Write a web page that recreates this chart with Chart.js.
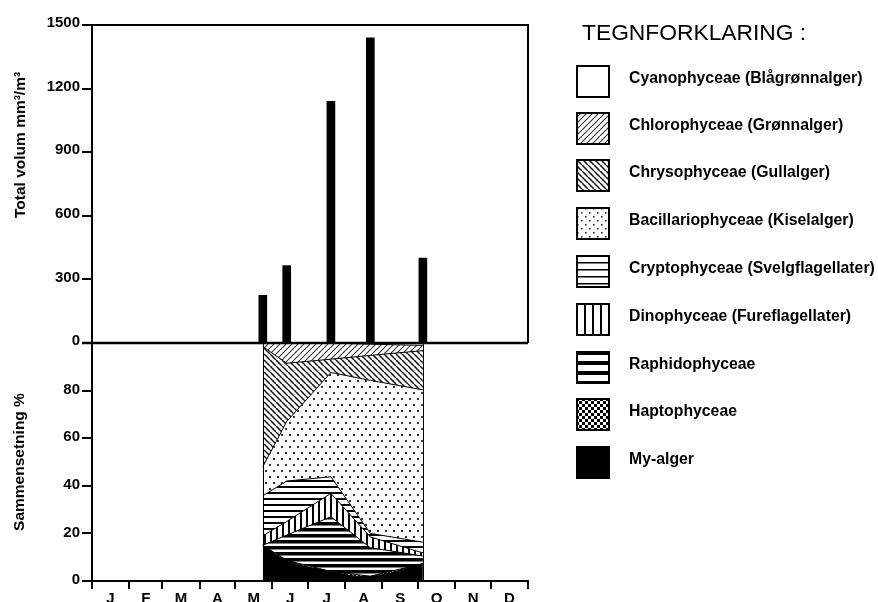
<!DOCTYPE html>
<html>
<head>
<meta charset="utf-8">
<script src="https://cdn.jsdelivr.net/npm/chart.js@4/dist/chart.umd.min.js"></script>
<style>
  html, body { margin: 0; padding: 0; background: #fff; overflow: hidden; }
  #wrap { position: relative; width: 878px; height: 602px; overflow: hidden; font-family: 'Liberation Sans', Arial, sans-serif; }
  #chart { position: absolute; left: 0; top: 0; }
  .ytitle { position: absolute; font-weight: bold; font-size: 15.5px; white-space: nowrap; transform: translate(-50%, -50%) rotate(-90deg); }
  .lgTitle { position: absolute; left: 582px; top: 19px; font-size: 22.8px; line-height: 27px; }
  .sw { position: absolute; left: 576px; }
  .lgText { position: absolute; left: 629px; font-weight: bold; font-size: 15.8px; line-height: 33px; white-space: nowrap; }
</style>
</head>
<body>
<div id="wrap">
  <canvas id="chart" width="878" height="609"></canvas>
  <div class="ytitle" style="left:19.5px; top:145px;">Total volum mm³/m³</div>
  <div class="lgTitle">TEGNFORKLARING :</div>
  <div id="legend"></div>
</div>
<script>
// sampling dates (day of year) and total volume (mm3/m3)
const sampleDays = [143, 163, 200, 233, 277];
const totalVolume = [225, 365, 1140, 1440, 400];

// composition in % per sampling date
const myAlger = [15, 8.7, 4, 2, 7.3];
const hapto = [0, 0, 0, 0, 0];
const raphido = [0, 10.6, 23, 12, 3.2];
const dino = [4, 5.7, 9.8, 4.5, 1.3];
const crypto = [16.8, 17, 7, 1.5, 4.5];
const bacill = [12.2, 25, 43.8, 64.3, 64];
const chryso = [50.5, 24.5, 5.6, 10.5, 16.5];
const chloro = [1.5, 8.5, 6.8, 4.7, 2.2];
const cyano = [0, 0, 0, 0.5, 1];

const monthStarts = [0, 31, 59, 90, 120, 151, 181, 212, 243, 273, 304, 334, 365];
const monthLabels = ['J', 'F', 'M', 'A', 'M', 'J', 'J', 'A', 'S', 'O', 'N', 'D'];
const volTicks = [0, 300, 600, 900, 1200, 1500];
const pctTicks = [0, 20, 40, 60, 80, 100];

const legendNames = [
  'Cyanophyceae (Blågrønnalger)',
  'Chlorophyceae (Grønnalger)',
  'Chrysophyceae (Gullalger)',
  'Bacillariophyceae (Kiselalger)',
  'Cryptophyceae (Svelgflagellater)',
  'Dinophyceae (Fureflagellater)',
  'Raphidophyceae',
  'Haptophyceae',
  'My-alger'
];

// pattern fills, big = legend swatch version
function makePattern(kind, big) {
  const c = document.createElement('canvas');
  const g = c.getContext('2d');
  let w = 6, h = 6;
  if (kind === 'fwd' || kind === 'back') { w = h = 6; }
  if (kind === 'dots') { w = 8; h = big ? 8 : 12; }
  if (kind === 'hthin') { w = 4; h = big ? 7 : 6; }
  if (kind === 'vert') { w = big ? 8 : 6; h = 4; }
  if (kind === 'hthick') { w = 4; h = big ? 10 : 6; }
  if (kind === 'check') { w = h = big ? 6 : 4; }
  c.width = w; c.height = h;
  g.fillStyle = '#fff';
  g.fillRect(0, 0, w, h);
  g.fillStyle = '#000';
  g.strokeStyle = '#000';
  if (kind === 'fwd' || kind === 'back') {
    g.strokeStyle = kind === 'fwd' ? '#333' : '#111';
    g.lineWidth = kind === 'fwd' ? 1.1 : 1.5;
    g.beginPath();
    for (let k = -1; k <= 1; k++) {
      if (kind === 'fwd') { g.moveTo(k * w, h); g.lineTo(k * w + w, 0); }
      else { g.moveTo(k * w, 0); g.lineTo(k * w + w, h); }
    }
    g.stroke();
  } else if (kind === 'dots') {
    g.fillStyle = '#333';
    if (big) { g.fillRect(1, 1, 1.6, 1.6); g.fillRect(5, 5, 1.6, 1.6); }
    else { g.fillRect(1, 2, 2, 2); g.fillRect(5, 8, 2, 2); }
  } else if (kind === 'hthin') {
    g.fillRect(0, 0, w, big ? 1.5 : 2);
  } else if (kind === 'vert') {
    g.fillRect(0, 0, 2, h);
  } else if (kind === 'hthick') {
    g.fillRect(0, 0, w, big ? 4 : 3.5);
  } else if (kind === 'check') {
    const q = w / 2;
    g.fillRect(0, 0, q, q);
    g.fillRect(q, q, q, q);
  } else if (kind === 'solid') {
    g.fillRect(0, 0, w, h);
  }
  return g.createPattern(c, 'repeat');
}

// bottom to top stacking order
const layers = [
  { data: myAlger, kind: 'solid', tension: 0.4 },
  { data: hapto, kind: 'check' },
  { data: raphido, kind: 'hthick' },
  { data: dino, kind: 'vert' },
  { data: crypto, kind: 'hthin' },
  { data: bacill, kind: 'dots' },
  { data: chryso, kind: 'back' },
  { data: chloro, kind: 'fwd' },
  { data: cyano, kind: 'white' }
];

const datasets = layers.map((l, i) => ({
  type: 'line',
  label: legendNames[legendNames.length - 1 - i],
  data: sampleDays.map((d, j) => ({ x: d, y: l.data[j] })),
  xAxisID: 'x',
  yAxisID: 'yBot',
  backgroundColor: l.kind === 'white' ? '#fff' : makePattern(l.kind, false),
  borderColor: '#000',
  borderWidth: 1,
  pointRadius: 0,
  tension: l.tension || 0,
  fill: i === 0 ? 'origin' : '-1'
}));

datasets.push({
  type: 'bar',
  label: 'Total volum',
  data: sampleDays.map((d, j) => ({ x: d, y: totalVolume[j] })),
  xAxisID: 'x',
  yAxisID: 'yTop',
  backgroundColor: '#000',
  barThickness: 8
});

const tickFont = { family: "'Liberation Sans', Arial, sans-serif", size: 15, weight: 'bold' };

// month boundaries carry tick marks, month middles carry the letters
const monthMids = monthLabels.map((m, i) => (monthStarts[i] + monthStarts[i + 1]) / 2);
const xTickValues = monthStarts.concat(monthMids).sort((a, b) => a - b);
const isBoundary = v => monthStarts.indexOf(v) >= 0;

// box round the volume panel and edges of the composition area
const panelFrame = {
  id: 'panelFrame',
  afterDraw(chart) {
    const { ctx, chartArea } = chart;
    const yTop = chart.scales.yTop, yBot = chart.scales.yBot, x = chart.scales.x;
    ctx.save();
    ctx.strokeStyle = '#000';
    ctx.lineWidth = 1;
    [sampleDays[0], sampleDays[sampleDays.length - 1]].forEach(d => {
      const px = Math.round(x.getPixelForValue(d)) + 0.5;
      ctx.beginPath();
      ctx.moveTo(px, yBot.top);
      ctx.lineTo(px, yBot.bottom);
      ctx.stroke();
    });
    ctx.lineWidth = 2;
    ctx.beginPath();
    ctx.moveTo(chartArea.left, yTop.top);
    ctx.lineTo(chartArea.right, yTop.top);
    ctx.lineTo(chartArea.right, yTop.bottom);
    ctx.stroke();
    ctx.lineWidth = 2.5;
    ctx.beginPath();
    ctx.moveTo(chartArea.left - 10, yTop.bottom);
    ctx.lineTo(chartArea.right, yTop.bottom);
    ctx.stroke();
    ctx.restore();
  }
};

new Chart(document.getElementById('chart'), {
  type: 'line',
  data: { datasets },
  options: {
    responsive: false,
    animation: false,
    events: [],
    layout: { padding: { left: 0, top: 25, right: 350, bottom: 0 } },
    plugins: { legend: { display: false }, tooltip: { enabled: false } },
    scales: {
      x: {
        type: 'linear', min: 0, max: 365, offset: false,
        afterBuildTicks: s => { s.ticks = xTickValues.map(v => ({ value: v })); },
        afterFit: s => { s.height = 28; },
        ticks: { padding: 1, color: '#000', font: tickFont, maxRotation: 0, autoSkip: false,
          callback: v => (isBoundary(v) ? '' : monthLabels[monthMids.indexOf(v)]) },
        grid: { drawOnChartArea: false, tickLength: 8, lineWidth: 2, offset: false,
          color: c => (c.tick && isBoundary(c.tick.value) ? '#000' : 'rgba(0,0,0,0)') },
        border: { color: '#000', width: 2 }
      },
      yBot: {
        type: 'linear', position: 'left', stack: 'v', stackWeight: 238, stacked: true,
        min: 0, max: 100,
        afterBuildTicks: s => { s.ticks = pctTicks.map(v => ({ value: v })); },
        afterFit: s => { s.width = 92; },
        ticks: { color: '#000', font: tickFont, padding: 2, labelOffset: -1,
          callback: v => (v === 100 ? '' : String(v)) },
        grid: { drawOnChartArea: false, tickLength: 10, lineWidth: 2, color: '#000' },
        border: { color: '#000', width: 2 },
        title: { display: true, text: 'Sammensetning %', color: '#000',
          font: { family: "'Liberation Sans', Arial, sans-serif", size: 15.5, weight: 'bold' },
          padding: { top: 10, bottom: 0 } }
      },
      yTop: {
        type: 'linear', position: 'left', stack: 'v', stackWeight: 318,
        min: 0, max: 1500,
        afterBuildTicks: s => { s.ticks = volTicks.map(v => ({ value: v })); },
        afterFit: s => { s.width = 92; },
        ticks: { color: '#000', font: tickFont, padding: 2, labelOffset: -2,
          callback: v => String(v) },
        grid: { drawOnChartArea: false, tickLength: 10, lineWidth: 2, color: '#000' },
        border: { color: '#000', width: 2 }
      }
    }
  },
  plugins: [panelFrame]
});

// legend with pattern swatches
const swatchKinds = ['white', 'fwd', 'back', 'dots', 'hthin', 'vert', 'hthick', 'check', 'solid'];
const swatchTops = [65, 112, 159, 207, 255, 303, 351, 398, 446];
const legend = document.getElementById('legend');
legendNames.forEach((name, i) => {
  const c = document.createElement('canvas');
  c.width = 34; c.height = 33;
  c.className = 'sw';
  c.style.top = swatchTops[i] + 'px';
  const g = c.getContext('2d');
  g.fillStyle = swatchKinds[i] === 'white' ? '#fff' : makePattern(swatchKinds[i], true);
  g.fillRect(0, 0, 34, 33);
  g.strokeStyle = '#000';
  g.lineWidth = 2;
  g.strokeRect(1, 1, 32, 31);
  legend.appendChild(c);
  const t = document.createElement('div');
  t.className = 'lgText';
  t.style.top = (swatchTops[i] - 4) + 'px';
  t.textContent = name;
  legend.appendChild(t);
});
</script>
</body>
</html>
